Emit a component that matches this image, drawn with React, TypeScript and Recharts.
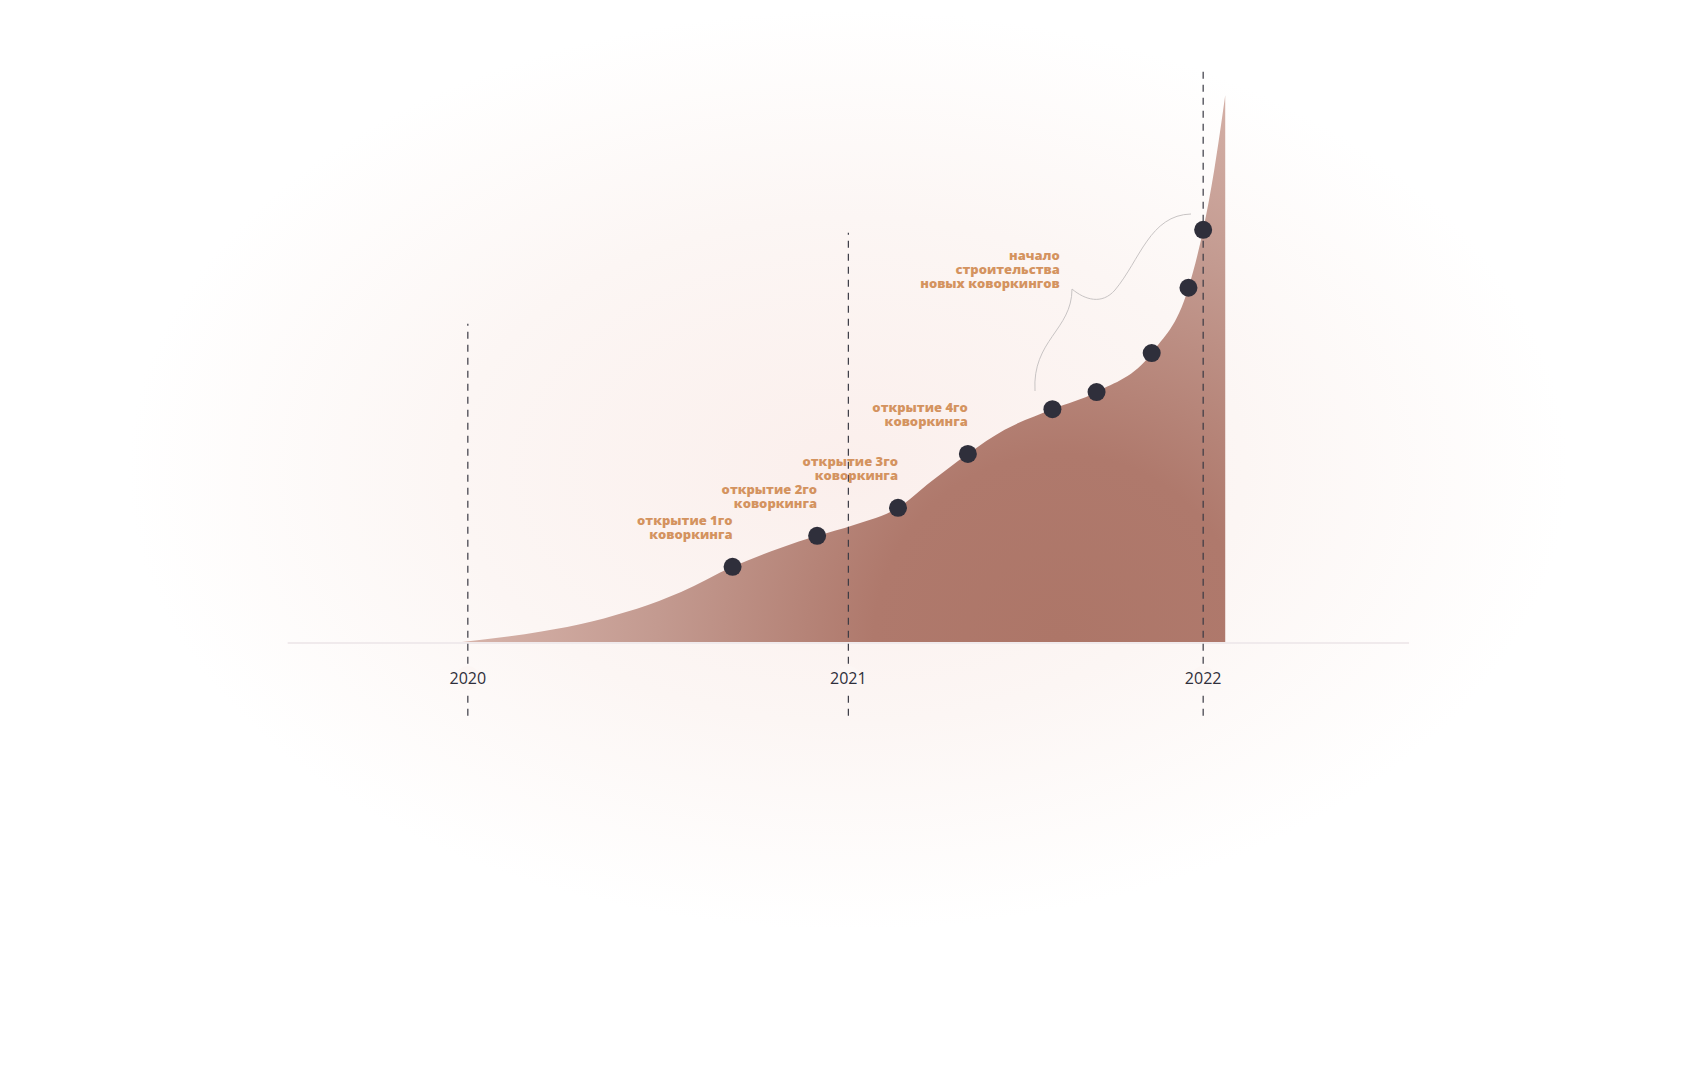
import React from 'react';
import { ComposedChart, Area, XAxis, YAxis, ReferenceLine, ReferenceDot } from 'recharts';

// timeline (years) and cumulative value
const years = [2019.96, 2020.2, 2020.34, 2020.58, 2020.72, 2020.85, 2020.95, 2021.05, 2021.17, 2021.26, 2021.36, 2021.46, 2021.59, 2021.71, 2021.86, 2021.96, 2022.0, 2022.03, 2022.06];
const values = [0, 2.0, 3.8, 8.9, 13.3, 16.6, 18.7, 20.6, 23.6, 28.2, 33.0, 37.2, 40.8, 43.8, 50.6, 62.0, 72.1, 82.5, 95.6];
const milestones = [4, 6, 8, 10, 12, 13, 14, 15, 16];
const milestoneLabels: Record<number, string[]> = {
  4: ['открытие 1го', 'коворкинга'],
  6: ['открытие 2го', 'коворкинга'],
  8: ['открытие 3го', 'коворкинга'],
  10: ['открытие 4го', 'коворкинга'],
};
const buildLabel = ['начало', 'строительства', 'новых коворкингов'];

const yearTicks = [2020, 2021, 2022];
const yearTickPos = [2020, 2021.035, 2022];
const yearLineTop = [55.7, 71.6, 100];

const data = years.map((x, i) => ({ x, v: values[i], idx: i }));

const ORANGE = '#d4935f';
const FONT = '"Open Sans", sans-serif';

const MilestoneDot = (props: any) => {
  const { cx, cy, payload } = props;
  if (!milestones.includes(payload.idx)) return <g key={payload.idx} />;
  const lbl = milestoneLabels[payload.idx];
  return (
    <g key={payload.idx}>
      <circle cx={cx} cy={cy} r={9} fill="#2f2f3b" />
      {lbl && (
        <text x={cx} y={cy - 42} textAnchor="end" fill={ORANGE} fontFamily={FONT} fontWeight={800} fontSize={13}>
          <tspan x={cx} dy={0}>{lbl[0]}</tspan>
          <tspan x={cx} dy={14}>{lbl[1]}</tspan>
        </text>
      )}
    </g>
  );
};

const BuildLabel = (props: any) => {
  const { viewBox } = props;
  const x = viewBox.x;
  const y = viewBox.y;
  return (
    <text x={x} y={y + 4} textAnchor="end" fill={ORANGE} fontFamily={FONT} fontWeight={800} fontSize={13}>
      {buildLabel.map((t, i) => (
        <tspan key={i} x={x} dy={i === 0 ? 0 : 14}>{t}</tspan>
      ))}
    </text>
  );
};

export default function App() {
  return (
    <div
      style={{
        position: 'absolute', left: 0, top: 0, width: 1693, height: 1073, overflow: 'hidden',
        background: 'radial-gradient(ellipse 720px 460px at 848px 470px, #fbefec 0%, #fcf6f4 55%, #ffffff 100%)',
      }}
    >
      <ComposedChart width={1693} height={1073} data={data} margin={{ top: 70, right: 306, bottom: 430, left: 284 }}>
        <defs>
          <radialGradient id="areaFill" gradientUnits="userSpaceOnUse" cx={1060} cy={640} r={620}>
            <stop offset="0%" stopColor="#ad7668" />
            <stop offset="30%" stopColor="#af796c" />
            <stop offset="65%" stopColor="#c39a90" />
            <stop offset="100%" stopColor="#d9b6ad" />
          </radialGradient>
        </defs>
        <XAxis type="number" dataKey="x" domain={[2019.5, 2022.5]} hide />
        <YAxis type="number" domain={[0, 100]} hide />
        <ReferenceLine
          segment={[{ x: 2019.51, y: 0 }, { x: 2022.56, y: 0 }]}
          stroke="#f0eaec" strokeWidth={2} ifOverflow="visible"
        />
        <Area
          type="monotone" dataKey="v" stroke="none" fill="url(#areaFill)" fillOpacity={1}
          dot={<MilestoneDot />} activeDot={false} isAnimationActive={false}
        />
        {yearTickPos.map((p, i) => (
          <ReferenceLine
            key={i}
            segment={[{ x: p, y: -12.7 }, { x: p, y: yearLineTop[i] }]}
            stroke="#3a3a44" strokeDasharray="7 6" strokeWidth={1.2} ifOverflow="visible"
          />
        ))}
        {yearTickPos.map((p, i) => (
          <ReferenceDot
            key={'t' + i} x={p} y={-6.1} r={12} fill="#fcf6f4" stroke="none" ifOverflow="visible"
            label={{ value: String(yearTicks[i]), position: 'center', fill: '#2f2f3b', fontSize: 16, fontFamily: FONT }}
          />
        ))}
        <ReferenceDot x={2021.61} y={67.6} r={0} ifOverflow="visible" label={<BuildLabel />} />
      </ComposedChart>
      <svg width={1693} height={1073} style={{ position: 'absolute', left: 0, top: 0, pointerEvents: 'none' }}>
        <path
          d="M1035,391 C1032,340 1072,330 1072,289 C1085,300 1102,305 1115,290 C1140,260 1150,215 1191,214"
          fill="none" stroke="#c8c4c4" strokeWidth={1}
        />
      </svg>
    </div>
  );
}
